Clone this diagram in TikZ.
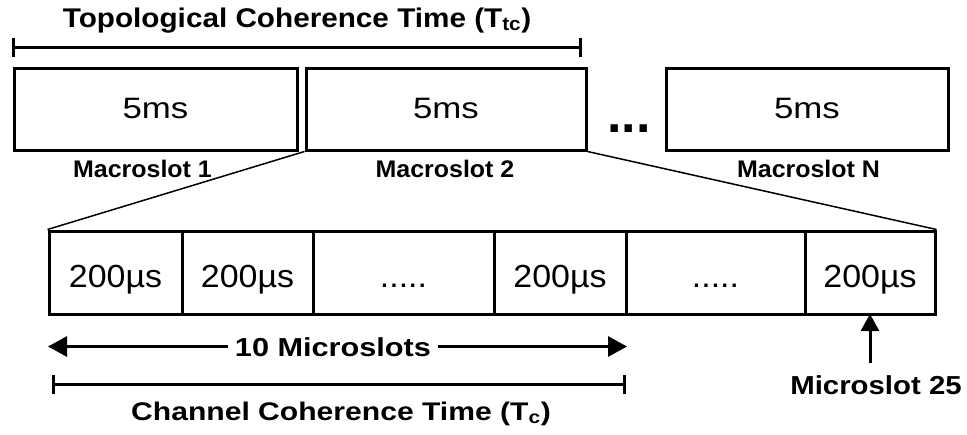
\documentclass[tikz,border=0pt]{standalone}
\usepackage{fontspec}
\setmainfont{Liberation Sans}
\newfontfamily\lsA{Liberation Sans}[FakeStretch=1.04]
\newfontfamily\lsB{Liberation Sans}[FakeStretch=1.1]
\newfontfamily\lsC{Liberation Sans}[FakeStretch=1.13]
\newfontfamily\lsD{Liberation Sans}[FakeStretch=1.18]
\newfontfamily\lsE{Liberation Sans}[FakeStretch=1.06]
\usetikzlibrary{arrows.meta}

\begin{document}
\begin{tikzpicture}[x=1pt,y=-1pt,
  macro/.style={draw, line width=3pt, inner sep=0pt, minimum height=82pt,
    text height=18pt, text depth=0pt, font=\lsD\fontsize{29.5}{34}\selectfont},
  cell/.style={draw, line width=3pt, inner sep=0pt, minimum height=83pt,
    text height=29pt, text depth=0pt, font=\lsE\fontsize{32}{36}\selectfont},
  caption/.style={anchor=base, inner sep=0pt, font=\lsA\bfseries\fontsize{24}{28}\selectfont},
  biglabel/.style={anchor=base, inner sep=0pt, font=\lsC\bfseries\fontsize{26}{30}\selectfont},
  span/.style={line width=3pt, {Bar[width=19pt]}-{Bar[width=19pt]}},
  zoomline/.style={line width=1.5pt},
  tip/.style={line width=3pt, -{Triangle[length=19pt,width=20pt]}},
]
\useasboundingbox (0,0) rectangle (967,434);

% topological coherence time
\node[biglabel, font=\lsB\bfseries\fontsize{27}{30}\selectfont] (ttc) at (297,27) {Topological Coherence Time (T\textsubscript{tc})};
\coordinate (ttcL) at (12,47);
\coordinate (ttcR) at (582,47);
\draw[span] (ttcL) -- (ttcR);

% macroslots
\node[macro, minimum width=283pt] (m1) at (155.5,109) {5ms};
\node[macro, minimum width=280pt] (m2) at (446,109) {5ms};
\node[macro, minimum width=282pt] (m3) at (807,109) {5ms};
\node[anchor=base, inner sep=0pt, font=\bfseries\fontsize{52}{60}\selectfont] (gap) at (629,132) {...};
\node[caption] (l1) at (142.5,177.5) {Macroslot 1};
\node[caption] (l2) at (445,177.5) {Macroslot 2};
\node[caption] (l3) at (808.5,177.5) {Macroslot N};

% microslots of macroslot 2
\node[cell, minimum width=133pt] (c1) at (115.5,272.5) {200µs};
\node[cell, minimum width=131pt] (c2) at (247.5,272.5) {200µs};
\node[cell, minimum width=181pt] (c3) at (403.5,272.5) {.....};
\node[cell, minimum width=132pt] (c4) at (560,272.5) {200µs};
\node[cell, minimum width=179pt] (c5) at (715.5,272.5) {.....};
\node[cell, minimum width=130pt] (c6) at (870,272.5) {200µs};

% zoom lines
\draw[zoomline] (m2.south west) -- (c1.north west);
\draw[zoomline] (m2.south east) -- (c6.north east);

% 10 microslots
\node[biglabel, font=\lsD\bfseries\fontsize{26}{30}\selectfont, anchor=center, inner xsep=7pt, text height=19pt, text depth=0pt] (ms10) at (333,346.5) {10 Microslots};
\coordinate (msL) at (48,346.5);
\coordinate (msR) at (627,346.5);
\draw[tip] (ms10.west) -- (msL);
\draw[tip] (ms10.east) -- (msR);

% channel coherence time
\coordinate (tcL) at (52,384);
\coordinate (tcR) at (626,384);
\draw[span] (tcL) -- (tcR);
\node[biglabel, font=\lsD\bfseries\fontsize{25.5}{30}\selectfont] (tc) at (341,420) {Channel Coherence Time (T\textsubscript{c})};

% microslot 25
\node[biglabel] (m25) at (876,394) {Microslot 25};
\coordinate (m25tail) at (870,363);
\draw[line width=3pt, -{Triangle[length=17pt,width=18pt]}, shorten >=-1.5pt] (m25tail) -- (c6.south);
\end{tikzpicture}
\end{document}
